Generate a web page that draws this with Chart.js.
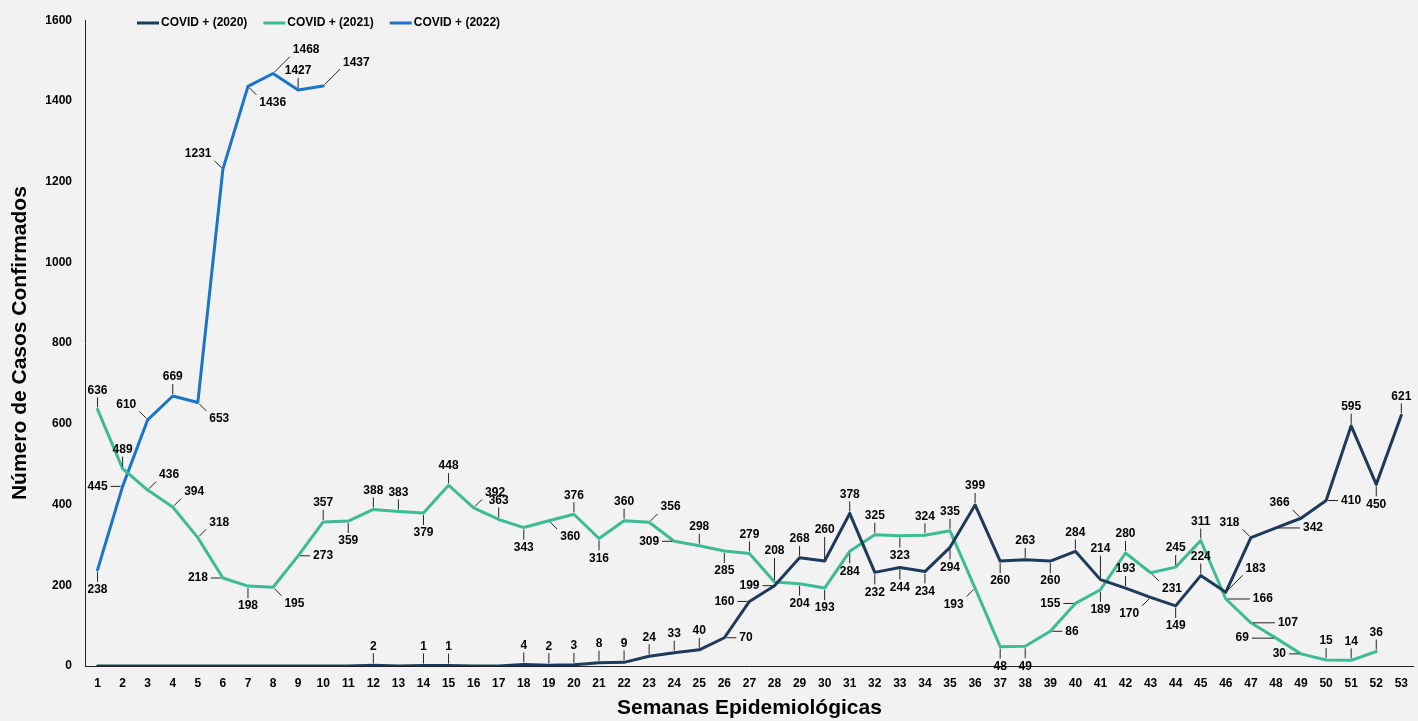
<!DOCTYPE html>
<html>
<head>
<meta charset="utf-8">
<script src="https://cdn.jsdelivr.net/npm/chart.js@4.4.1/dist/chart.umd.min.js"></script>
<style>
  html, body { margin: 0; padding: 0; background: #F2F2F2; }
  #wrap { width: 1418px; height: 721px; }
</style>
</head>
<body>
<div id="wrap"><canvas id="casosChart"></canvas></div>
<script>
// semanas epidemiologicas
const semanas = ['1','2','3','4','5','6','7','8','9','10','11','12','13','14','15','16','17','18','19','20',
  '21','22','23','24','25','26','27','28','29','30','31','32','33','34','35','36','37','38','39','40',
  '41','42','43','44','45','46','47','48','49','50','51','52','53'];

const casos2020 = [0,0,0,0,0,0,0,0,0,0,0,2,0,1,1,0,0,4,2,3,8,9,24,33,40,70,160,199,268,260,
  378,232,244,234,294,399,260,263,260,284,214,193,170,149,224,183,318,342,366,410,595,450,621];
const casos2021 = [636,489,436,394,318,218,198,195,273,357,359,388,383,379,448,392,363,343,360,376,
  316,360,356,309,298,285,279,208,204,193,284,325,323,324,335,193,48,49,86,155,189,280,231,245,311,
  166,107,69,30,15,14,36,null];
const casos2022 = [238,445,610,669,653,1231,1436,1468,1427,1437];

const yTicks = [0,200,400,600,800,1000,1200,1400,1600];

// where each value label sits relative to its point (a=above, b=below, l/r, combos; digit = longer leader)
const pos2020 = '- - - - - - - - - - - a - a a - - a a a a a a a a r l l a a2 a b b b b a b a b a a2 a bl b a ar2 al r2 al r a b a'.split(' ');
const pos2021 = 'a a ar ar ar l b br r a b a a b a ar a b br a b a ar l a b a a2 b b b a b a a bl b b r l b a br a a r2 r2 l2 l a a a'.split(' ');
const pos2022 = 'b l al a br al br ar2 a ar2'.split(' ');

const FONT = '"Liberation Sans", Arial, sans-serif';

const dirs = {
  a: [0, -1], b: [0, 1], l: [-1, 0], r: [1, 0],
  al: [-0.7, -0.7], ar: [0.7, -0.7], bl: [-0.7, 0.7], br: [0.7, 0.7]
};

const labelPlugin = {
  id: 'pointLabels',
  beforeDraw(chart) {
    const ctx = chart.ctx;
    ctx.save();
    ctx.fillStyle = '#F2F2F2';
    ctx.fillRect(0, 0, chart.width, chart.height);
    ctx.restore();
  },
  afterDatasetsDraw(chart) {
    const ctx = chart.ctx;
    ctx.save();
    ctx.font = 'bold 12px ' + FONT;
    ctx.strokeStyle = '#222';
    ctx.fillStyle = '#000';
    ctx.lineWidth = 1;
    chart.data.datasets.forEach((ds, i) => {
      const meta = chart.getDatasetMeta(i);
      meta.data.forEach((pt, j) => {
        const v = ds.data[j];
        const p = ds.labelPos[j];
        if (v == null || v === 0 || !p || p === '-') return;
        const m = p.match(/^([a-z]+)(\d?)$/);
        const d = dirs[m[1]];
        const len = m[2] ? 12 * Number(m[2]) : 12;
        const x0 = pt.x + d[0] * 2, y0 = pt.y + d[1] * 2;
        const x1 = pt.x + d[0] * len, y1 = pt.y + d[1] * len;
        ctx.beginPath();
        ctx.moveTo(x0, y0);
        ctx.lineTo(x1, y1);
        ctx.stroke();
        let tx = x1, ty = y1;
        if (d[0] > 0) { ctx.textAlign = 'left'; tx += 3; }
        else if (d[0] < 0) { ctx.textAlign = 'right'; tx -= 3; }
        else ctx.textAlign = 'center';
        if (d[1] < 0) { ctx.textBaseline = 'bottom'; ty -= 1; }
        else if (d[1] > 0) { ctx.textBaseline = 'top'; ty += 2; }
        else ctx.textBaseline = 'middle';
        ctx.fillText(String(v), tx, ty);
      });
    });
    ctx.restore();
  },
  afterDraw(chart) {
    // legend drawn by hand, it sits inside the plot area
    const ctx = chart.ctx;
    ctx.save();
    ctx.font = 'bold 12px ' + FONT;
    ctx.textBaseline = 'middle';
    ctx.textAlign = 'left';
    let x = 137;
    const y = 23;
    chart.data.datasets.forEach(ds => {
      ctx.strokeStyle = ds.borderColor;
      ctx.lineWidth = 3;
      ctx.beginPath();
      ctx.moveTo(x, y);
      ctx.lineTo(x + 22, y);
      ctx.stroke();
      ctx.fillStyle = '#000';
      ctx.fillText(ds.label, x + 24, y);
      x += 24 + ctx.measureText(ds.label).width + 16;
    });
    ctx.restore();
  }
};

let ctx = document.getElementById('casosChart').getContext('2d');

let casosChart = new Chart(ctx, {
  type: 'line',
  data: {
    labels: semanas,
    datasets: [{
      label: 'COVID + (2020)',
      data: casos2020,
      borderColor: '#1D3A5A',
      labelPos: pos2020
    }, {
      label: 'COVID + (2021)',
      data: casos2021,
      borderColor: '#3DBB95',
      labelPos: pos2021
    }, {
      label: 'COVID + (2022)',
      data: casos2022,
      borderColor: '#1A74C9',
      labelPos: pos2022
    }]
  },
  options: {
    responsive: true,
    maintainAspectRatio: false,
    animation: false,
    layout: { padding: { top: 10, right: 0, bottom: 0, left: 0 } },
    elements: {
      line: { borderWidth: 3, tension: 0, borderCapStyle: 'round', borderJoinStyle: 'round' },
      point: { radius: 0, hoverRadius: 0 }
    },
    plugins: {
      legend: { display: false },
      tooltip: { enabled: false }
    },
    scales: {
      x: {
        offset: true,
        grid: { display: false, drawTicks: false },
        border: { display: true, color: '#222', width: 1 },
        ticks: { color: '#000', font: { family: FONT, size: 12, weight: 'bold' }, padding: 10, maxRotation: 0, autoSkip: false },
        title: { display: true, text: 'Semanas Epidemiológicas', color: '#000', font: { family: FONT, size: 21, weight: 'bold' }, padding: { top: 4, bottom: 0 } },
        afterFit(scale) { scale.height = 55; }
      },
      y: {
        min: 0,
        max: 1600,
        grid: { display: false, drawTicks: false },
        border: { display: true, color: '#222', width: 1 },
        afterBuildTicks(scale) { scale.ticks = yTicks.map(v => ({ value: v })); },
        ticks: { color: '#000', font: { family: FONT, size: 12, weight: 'bold' }, padding: 13, callback: v => String(v) },
        title: { display: true, text: 'Número de Casos Confirmados', color: '#000', font: { family: FONT, size: 21, weight: 'bold' }, padding: { top: 8, bottom: 0 } },
        afterFit(scale) { scale.width = 85; }
      }
    }
  },
  plugins: [labelPlugin]
});
</script>
</body>
</html>
